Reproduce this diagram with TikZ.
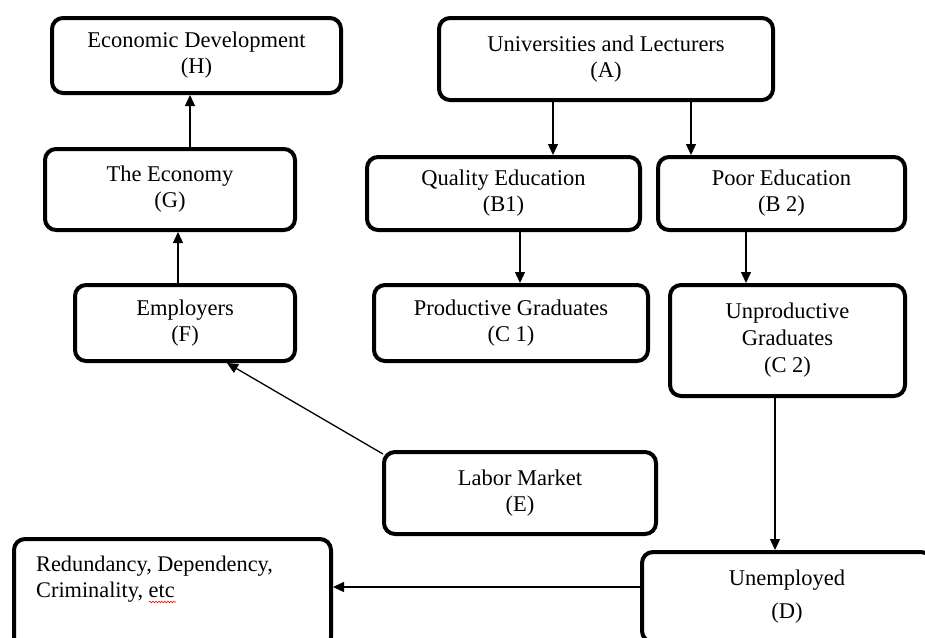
\documentclass[tikz,border=0pt]{standalone}
\usepackage{fontspec}
\setmainfont{Liberation Serif}
\usetikzlibrary{arrows.meta,calc,decorations.pathmorphing}
\begin{document}
\begin{tikzpicture}[x=1pt,y=-1pt,
  box/.style={draw, line width=4pt, rounded corners=11pt, align=center,
    inner sep=0pt, font=\fontsize{22.5}{26}\selectfont},
  txt/.style={inner sep=0pt, align=left, font=\fontsize{22.3}{26}\selectfont},
  arr/.style={line width=1.3pt, -{Triangle[length=11pt,width=10pt]}}]
\useasboundingbox (0,0) rectangle (925,637);
\clip (0,0) rectangle (925,637);

\node[box, minimum width=289pt, minimum height=75pt] (H) at (196.5,55.5) {Economic Development\\(H)};
\node[box, minimum width=250pt, minimum height=81pt] (G) at (170,189.5) {The Economy\\(G)};
\node[box, minimum width=220pt, minimum height=76pt] (F) at (185,323) {Employers\\(F)};
\node[box, minimum width=334pt, minimum height=82pt] (A) at (606,59) {Universities and Lecturers\\(A)};
\node[box, minimum width=273pt, minimum height=73pt] (B1) at (503.5,193.5) {Quality Education\\(B1)};
\node[box, minimum width=247pt, minimum height=73pt] (B2) at (781.5,193.5) {Poor Education\\(B 2)};
\node[box, minimum width=274pt, minimum height=76pt] (C1) at (511,323) {Productive Graduates\\(C 1)};
\node[box, minimum width=235pt, minimum height=111pt, font=\fontsize{22.5}{27}\selectfont] (C2) at (787.5,340.5) {Unproductive\\Graduates\\(C 2)};
\node[box, minimum width=272pt, minimum height=82pt] (E) at (520,493) {Labor Market\\(E)};
\node[box, minimum width=317pt, minimum height=109pt] (R) at (172.5,593.5) {};
\node[txt, anchor=north west] (Rt) at (36,556) {Redundancy, Dependency,\\Criminality, etc};
\node[box, minimum width=290pt, minimum height=90pt, font=\fontsize{22.5}{33}\selectfont] (D) at (787,597) {Unemployed\\(D)};

\coordinate (xGH) at (190,0);
\coordinate (xFG) at (178,0);
\coordinate (xAB1) at (553,0);
\coordinate (xAB2) at (691,0);
\coordinate (xBC1) at (520,0);
\coordinate (xBC2) at (746,0);
\coordinate (xCD) at (775,0);
\coordinate (xEF) at (227,0);
\coordinate (yDR) at (0,587);

\draw[arr] (G.north -| xGH) -- (H.south -| xGH);
\draw[arr] (F.north -| xFG) -- (G.south -| xFG);
\draw[arr] (A.south -| xAB1) -- (B1.north -| xAB1);
\draw[arr] (A.south -| xAB2) -- (B2.north -| xAB2);
\draw[arr] (B1.south -| xBC1) -- (C1.north -| xBC1);
\draw[arr] (B2.south -| xBC2) -- (C2.north -| xBC2);
\draw[arr] (C2.south -| xCD) -- (D.north -| xCD);
\draw[arr] (D.west |- yDR) -- (R.east |- yDR);
\draw[arr] ([shift={(1,4)}]E.north west) -- (F.south -| xEF);

\draw[red, line width=0.6pt, decorate, decoration={snake, amplitude=0.8pt, segment length=3pt}] (149,602) -- (176,602);
\end{tikzpicture}
\end{document}
